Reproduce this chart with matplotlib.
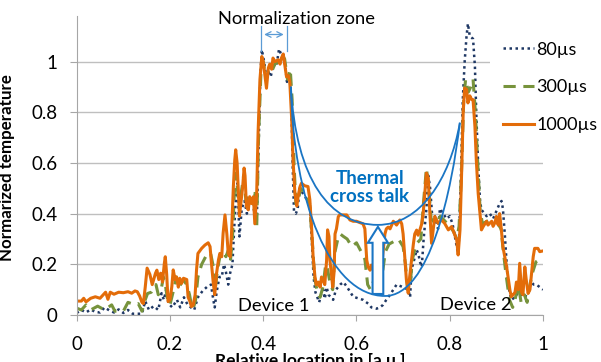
import matplotlib.pyplot as plt
from matplotlib.path import Path
from matplotlib.patches import PathPatch, FancyArrow

plt.rcParams['font.family'] = ['Lato', 'DejaVu Sans']

# 80 us profile
x80 = [0.000, 0.010, 0.020, 0.030, 0.040, 0.050, 0.060, 0.070, 0.080, 0.090,
       0.100, 0.110, 0.120, 0.130, 0.140, 0.147, 0.155, 0.165, 0.175, 0.182,
       0.187, 0.192, 0.197, 0.205, 0.215, 0.222, 0.230, 0.238, 0.245, 0.252,
       0.260, 0.270, 0.280, 0.288, 0.293, 0.296, 0.300, 0.306, 0.311, 0.316,
       0.320, 0.325, 0.329, 0.334, 0.338, 0.342, 0.345, 0.349, 0.354, 0.360,
       0.365, 0.370, 0.378, 0.383, 0.386, 0.390, 0.394, 0.397, 0.402, 0.407,
       0.411, 0.416, 0.422, 0.428, 0.434, 0.440, 0.446, 0.451, 0.456, 0.460,
       0.463, 0.466, 0.470, 0.474, 0.478, 0.485, 0.492, 0.500, 0.504, 0.508,
       0.512, 0.516, 0.520, 0.524, 0.529, 0.532, 0.536, 0.540, 0.545, 0.550,
       0.556, 0.565, 0.572, 0.580, 0.593, 0.605, 0.614, 0.625, 0.632, 0.643,
       0.650, 0.657, 0.664, 0.672, 0.679, 0.686, 0.700, 0.711, 0.715, 0.718,
       0.724, 0.729, 0.733, 0.736, 0.740, 0.744, 0.750, 0.754, 0.758, 0.762,
       0.768, 0.775, 0.779, 0.786, 0.793, 0.800, 0.806, 0.812, 0.817, 0.820,
       0.824, 0.828, 0.832, 0.836, 0.839, 0.843, 0.850, 0.854, 0.857, 0.861,
       0.865, 0.868, 0.875, 0.879, 0.886, 0.893, 0.900, 0.907, 0.911, 0.914,
       0.918, 0.925, 0.932, 0.940, 0.947, 0.954, 0.961, 0.968, 0.975, 0.980,
       0.986, 0.993, 1.000]
y80 = [0.008, 0.020, 0.010, 0.022, 0.012, 0.010, 0.030, 0.018, 0.010, 0.022,
       0.008, 0.020, 0.005, 0.005, 0.005, 0.055, 0.020, 0.035, 0.020, 0.086,
       0.060, 0.100, 0.045, 0.030, 0.060, 0.030, 0.070, 0.040, 0.030, 0.020,
       0.070, 0.095, 0.112, 0.120, 0.060, 0.030, 0.090, 0.150, 0.150, 0.200,
       0.170, 0.120, 0.165, 0.200, 0.350, 0.480, 0.520, 0.310, 0.420, 0.450,
       0.400, 0.450, 0.440, 0.380, 0.360, 0.650, 0.950, 1.047, 1.000, 0.930,
       0.960, 0.940, 0.990, 0.980, 1.050, 1.020, 1.000, 0.920, 0.950, 0.860,
       0.600, 0.410, 0.400, 0.420, 0.500, 0.480, 0.460, 0.440, 0.300, 0.150,
       0.090, 0.070, 0.050, 0.080, 0.100, 0.064, 0.110, 0.080, 0.070, 0.060,
       0.100, 0.120, 0.130, 0.110, 0.072, 0.065, 0.060, 0.045, 0.030, 0.025,
       0.030, 0.040, 0.060, 0.080, 0.100, 0.120, 0.110, 0.100, 0.070, 0.180,
       0.220, 0.257, 0.240, 0.210, 0.190, 0.300, 0.420, 0.550, 0.500, 0.400,
       0.390, 0.340, 0.420, 0.400, 0.380, 0.390, 0.360, 0.300, 0.250, 0.300,
       0.550, 0.850, 1.000, 1.100, 1.150, 1.100, 1.090, 0.980, 0.790, 0.590,
       0.450, 0.415, 0.400, 0.390, 0.400, 0.380, 0.410, 0.440, 0.450, 0.420,
       0.320, 0.120, 0.060, 0.070, 0.090, 0.080, 0.070, 0.090, 0.130, 0.120,
       0.120, 0.110, 0.100]

# 300 us profile
x300 = [0.000, 0.010, 0.020, 0.030, 0.045, 0.060, 0.075, 0.082, 0.100, 0.110,
        0.125, 0.132, 0.140, 0.147, 0.152, 0.160, 0.165, 0.170, 0.175, 0.182,
        0.186, 0.190, 0.195, 0.200, 0.208, 0.214, 0.220, 0.228, 0.236, 0.242,
        0.246, 0.250, 0.255, 0.260, 0.268, 0.278, 0.287, 0.292, 0.297, 0.302,
        0.308, 0.314, 0.320, 0.326, 0.330, 0.334, 0.338, 0.342, 0.347, 0.352,
        0.358, 0.363, 0.370, 0.378, 0.382, 0.386, 0.390, 0.395, 0.400, 0.406,
        0.412, 0.418, 0.425, 0.432, 0.440, 0.446, 0.452, 0.458, 0.462, 0.466,
        0.470, 0.474, 0.480, 0.490, 0.500, 0.505, 0.510, 0.516, 0.522, 0.528,
        0.534, 0.538, 0.544, 0.549, 0.554, 0.560, 0.565, 0.572, 0.580, 0.590,
        0.600, 0.610, 0.618, 0.624, 0.630, 0.636, 0.640, 0.645, 0.650, 0.656,
        0.662, 0.670, 0.680, 0.690, 0.700, 0.705, 0.710, 0.715, 0.720, 0.728,
        0.738, 0.744, 0.750, 0.755, 0.760, 0.770, 0.780, 0.790, 0.800, 0.808,
        0.815, 0.820, 0.825, 0.830, 0.834, 0.840, 0.845, 0.850, 0.855, 0.860,
        0.865, 0.870, 0.880, 0.890, 0.900, 0.910, 0.915, 0.920, 0.928, 0.935,
        0.940, 0.947, 0.953, 0.960, 0.966, 0.972, 0.978, 0.985, 0.993, 1.000]
y300 = [0.027, 0.020, 0.040, 0.020, 0.035, 0.020, 0.040, 0.015, 0.015, 0.050,
        0.040, 0.045, 0.015, 0.060, 0.085, 0.090, 0.105, 0.120, 0.080, 0.110,
        0.150, 0.120, 0.060, 0.040, 0.100, 0.150, 0.110, 0.140, 0.120, 0.080,
        0.040, 0.025, 0.060, 0.150, 0.200, 0.235, 0.245, 0.200, 0.100, 0.180,
        0.240, 0.250, 0.230, 0.260, 0.220, 0.300, 0.480, 0.560, 0.450, 0.470,
        0.550, 0.450, 0.470, 0.470, 0.480, 0.340, 0.700, 0.950, 1.000, 0.930,
        0.970, 0.960, 0.990, 1.000, 1.030, 1.010, 0.930, 0.970, 0.850, 0.600,
        0.440, 0.440, 0.500, 0.480, 0.430, 0.300, 0.150, 0.090, 0.070, 0.110,
        0.200, 0.180, 0.120, 0.100, 0.250, 0.300, 0.320, 0.310, 0.300, 0.270,
        0.285, 0.250, 0.220, 0.120, 0.100, 0.130, 0.170, 0.150, 0.120, 0.170,
        0.250, 0.280, 0.290, 0.300, 0.270, 0.200, 0.100, 0.120, 0.220, 0.280,
        0.300, 0.450, 0.580, 0.500, 0.380, 0.360, 0.390, 0.370, 0.350, 0.330,
        0.300, 0.350, 0.550, 0.850, 0.930, 0.880, 0.900, 0.930, 0.800, 0.600,
        0.420, 0.360, 0.370, 0.380, 0.370, 0.340, 0.250, 0.170, 0.060, 0.030,
        0.060, 0.120, 0.050, 0.080, 0.050, 0.120, 0.170, 0.210, 0.220, 0.217]

# 1000 us profile
x1000 = [0.000, 0.010, 0.015, 0.020, 0.030, 0.040, 0.050, 0.057, 0.062, 0.067,
         0.072, 0.080, 0.090, 0.100, 0.110, 0.118, 0.125, 0.130, 0.135, 0.140,
         0.143, 0.147, 0.151, 0.157, 0.162, 0.169, 0.172, 0.176, 0.180, 0.184,
         0.188, 0.190, 0.193, 0.196, 0.200, 0.204, 0.207, 0.211, 0.214, 0.218,
         0.221, 0.225, 0.229, 0.236, 0.239, 0.243, 0.246, 0.250, 0.254, 0.257,
         0.260, 0.268, 0.275, 0.282, 0.286, 0.289, 0.293, 0.296, 0.300, 0.304,
         0.307, 0.311, 0.314, 0.318, 0.322, 0.325, 0.329, 0.332, 0.336, 0.339,
         0.341, 0.344, 0.349, 0.352, 0.356, 0.359, 0.361, 0.364, 0.368, 0.371,
         0.375, 0.379, 0.382, 0.386, 0.389, 0.393, 0.397, 0.400, 0.404, 0.407,
         0.411, 0.414, 0.418, 0.421, 0.425, 0.432, 0.436, 0.439, 0.443, 0.446,
         0.450, 0.454, 0.457, 0.461, 0.464, 0.468, 0.472, 0.475, 0.479, 0.482,
         0.489, 0.496, 0.500, 0.504, 0.507, 0.511, 0.514, 0.518, 0.522, 0.525,
         0.529, 0.532, 0.536, 0.538, 0.541, 0.543, 0.547, 0.549, 0.552, 0.554,
         0.557, 0.561, 0.564, 0.571, 0.579, 0.586, 0.593, 0.600, 0.607, 0.614,
         0.618, 0.622, 0.625, 0.629, 0.632, 0.636, 0.639, 0.643, 0.646, 0.650,
         0.654, 0.657, 0.661, 0.664, 0.668, 0.672, 0.679, 0.686, 0.693, 0.697,
         0.700, 0.704, 0.707, 0.711, 0.714, 0.718, 0.722, 0.725, 0.729, 0.732,
         0.736, 0.740, 0.743, 0.747, 0.750, 0.754, 0.757, 0.761, 0.768, 0.775,
         0.782, 0.789, 0.797, 0.804, 0.811, 0.815, 0.818, 0.822, 0.825, 0.829,
         0.832, 0.836, 0.839, 0.843, 0.847, 0.850, 0.854, 0.857, 0.861, 0.865,
         0.868, 0.872, 0.879, 0.882, 0.890, 0.893, 0.897, 0.900, 0.904, 0.907,
         0.911, 0.914, 0.918, 0.922, 0.925, 0.929, 0.932, 0.936, 0.940, 0.943,
         0.947, 0.950, 0.954, 0.957, 0.961, 0.964, 0.968, 0.972, 0.979, 0.982,
         0.989, 0.993, 1.000]
y1000 = [0.055, 0.055, 0.066, 0.052, 0.066, 0.072, 0.066, 0.080, 0.090, 0.062,
         0.090, 0.082, 0.090, 0.088, 0.092, 0.086, 0.095, 0.092, 0.075, 0.050,
         0.045, 0.110, 0.185, 0.160, 0.120, 0.165, 0.177, 0.140, 0.165, 0.130,
         0.204, 0.230, 0.160, 0.053, 0.060, 0.112, 0.178, 0.140, 0.150, 0.110,
         0.145, 0.125, 0.145, 0.140, 0.070, 0.053, 0.033, 0.040, 0.080, 0.178,
         0.243, 0.263, 0.276, 0.285, 0.270, 0.204, 0.125, 0.080, 0.165, 0.217,
         0.243, 0.230, 0.322, 0.395, 0.320, 0.243, 0.230, 0.320, 0.507, 0.612,
         0.652, 0.600, 0.390, 0.440, 0.507, 0.580, 0.550, 0.428, 0.415, 0.467,
         0.440, 0.467, 0.360, 0.480, 0.720, 0.930, 1.020, 1.000, 0.940, 0.895,
         0.975, 0.990, 0.970, 1.014, 1.000, 1.007, 0.990, 1.014, 1.030, 0.990,
         0.940, 0.945, 0.920, 0.775, 0.610, 0.480, 0.430, 0.470, 0.507, 0.520,
         0.510, 0.507, 0.455, 0.336, 0.230, 0.150, 0.119, 0.130, 0.110, 0.150,
         0.135, 0.120, 0.217, 0.336, 0.310, 0.217, 0.150, 0.110, 0.170, 0.320,
         0.340, 0.388, 0.395, 0.395, 0.395, 0.375, 0.370, 0.370, 0.365, 0.360,
         0.340, 0.217, 0.190, 0.177, 0.197, 0.177, 0.210, 0.190, 0.197, 0.177,
         0.190, 0.250, 0.320, 0.340, 0.347, 0.340, 0.370, 0.355, 0.375, 0.360,
         0.320, 0.217, 0.140, 0.086, 0.150, 0.217, 0.280, 0.320, 0.335, 0.315,
         0.336, 0.360, 0.400, 0.490, 0.560, 0.540, 0.415, 0.283, 0.389, 0.362,
         0.375, 0.362, 0.336, 0.349, 0.316, 0.296, 0.237, 0.336, 0.530, 0.810,
         0.896, 0.890, 0.837, 0.865, 0.850, 0.850, 0.744, 0.610, 0.480, 0.400,
         0.336, 0.350, 0.370, 0.355, 0.370, 0.350, 0.365, 0.389, 0.355, 0.400,
         0.330, 0.270, 0.230, 0.190, 0.150, 0.099, 0.072, 0.080, 0.090, 0.130,
         0.100, 0.204, 0.090, 0.080, 0.190, 0.140, 0.085, 0.100, 0.230, 0.263,
         0.263, 0.250, 0.253]

tick_vals = [0, 0.2, 0.4, 0.6, 0.8, 1]
tick_labels = ['0', '0.2', '0.4', '0.6', '0.8', '1']

fig = plt.figure(figsize=(6.01, 3.62), dpi=100)
ax = fig.add_axes([0.1276, 0.1298, 0.7759, 0.8260])

ax.plot(x80, y80, color='#1F3864', lw=1.8, linestyle=(0, (1, 1.4)), label='80µs')
ax.plot(x300, y300, color='#77933C', lw=2.2, linestyle=(0, (4, 2.5)), label='300µs')
ax.plot(x1000, y1000, color='#E36C09', lw=2.2, label='1000µs')

ax.set_xlim(0, 1)
ax.set_ylim(0, 1.18)
ax.set_xticks(tick_vals)
ax.set_xticklabels(tick_labels)
ax.set_yticks(tick_vals)
ax.set_yticklabels(tick_labels)
ax.grid(axis='y', color='#BFBFBF', lw=1)
ax.set_axisbelow(True)
for s in ['top', 'right']:
    ax.spines[s].set_visible(False)
for s in ['left', 'bottom']:
    ax.spines[s].set_color('#A6A6A6')
ax.tick_params(axis='y', length=5, pad=9, color='#A6A6A6', labelsize=13.5)
ax.tick_params(axis='x', length=4, pad=11, color='#A6A6A6', labelsize=13.5)

ax.set_ylabel('Normarized temperature', fontsize=12.2, fontweight='bold')
ax.yaxis.set_label_coords(-0.133, 0.493)
ax.set_xlabel('Relative location in [a.u.]', fontsize=12.5, fontweight='bold')
ax.xaxis.set_label_coords(0.5, -0.127)

blue = '#1A75C4'
# normalization zone marker
ax.annotate('', xy=(0.396, 1.107), xytext=(0.450, 1.107),
            arrowprops=dict(arrowstyle='<->', color='#5B9BD5', lw=0.9))
ax.plot([0.396, 0.396], [1.04, 1.14], color='#5B9BD5', lw=0.9)
ax.plot([0.450, 0.450], [1.04, 1.14], color='#5B9BD5', lw=0.9)
ax.text(0.472, 1.17, 'Normalization zone', fontsize=13.2, ha='center', va='center',
        clip_on=False)

# thermal cross talk envelopes
upper = Path([(0.4594, 0.9012), (0.4701, 0.5336), (0.5430, 0.3557), (0.6459, 0.3557),
              (0.7359, 0.3557), (0.8002, 0.5336), (0.8217, 0.7589)],
             [Path.MOVETO] + [Path.CURVE4] * 6)
lower = Path([(0.4594, 0.9012), (0.4637, 0.4545), (0.5430, 0.0751), (0.6609, 0.0751),
              (0.7576, 0.0751), (0.8046, 0.4941), (0.8217, 0.7589)],
             [Path.MOVETO] + [Path.CURVE4] * 6)
for p in [upper, lower]:
    ax.add_patch(PathPatch(p, fc='none', ec=blue, lw=1.3, zorder=5))

ax.add_patch(FancyArrow(0.646, 0.083, 0, 0.265, width=0.023, head_width=0.043,
                        head_length=0.063, length_includes_head=True,
                        fc='white', ec=blue, lw=1.5, zorder=6))
ax.text(0.629, 0.504, 'Thermal\ncross talk', color='#0070C0', fontsize=13.5,
        fontweight='bold', ha='center', va='center', linespacing=1.1, zorder=7)

ax.text(0.423, 0.036, 'Device 1', fontsize=13.2, ha='center', va='center')
ax.text(0.856, 0.040, 'Device 2', fontsize=13.2, ha='center', va='center')

leg = ax.legend(loc='upper left', bbox_to_anchor=(490 / 601, 1 - 29 / 362),
                bbox_transform=fig.transFigure, borderaxespad=0, borderpad=0.7,
                fontsize=13, handlelength=1.75, handletextpad=0.12,
                labelspacing=1.2, frameon=True, fancybox=False)
leg.get_frame().set_facecolor('white')
leg.get_frame().set_edgecolor('none')
leg.get_frame().set_alpha(1)

fig.savefig('out.png', dpi=100)
